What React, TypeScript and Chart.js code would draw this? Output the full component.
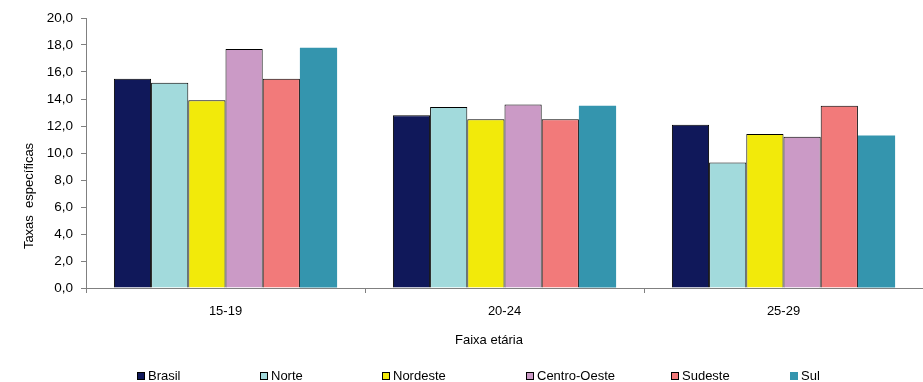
import React, { useEffect, useRef } from "react";
import { Chart, registerables } from "chart.js";

Chart.register(...registerables);

const categories = ["15-19", "20-24", "25-29"];
const seriesNames = ["Brasil", "Norte", "Nordeste", "Centro-Oeste", "Sudeste", "Sul"];
const brasil = [15.5, 12.8, 12.1];
const norte = [15.2, 13.4, 9.3];
const nordeste = [13.9, 12.5, 11.4];
const centroOeste = [17.7, 13.6, 11.2];
const sudeste = [15.5, 12.5, 13.5];
const sul = [17.8, 13.5, 11.3];
const yTicks = [0, 2, 4, 6, 8, 10, 12, 14, 16, 18, 20];
const yTitle = "Taxas  específicas";
const xTitle = "Faixa etária";

const seriesValues = [brasil, norte, nordeste, centroOeste, sudeste, sul];
const colors = ["#10185A", "#A2DADC", "#F2EA0A", "#CB9AC6", "#F27A7A", "#3495AE"];
const borderWidths = [1, 1, 1, 1, 1, 0];
const legendX = [137, 260, 382, 526, 671, 790];

const FONT = "'Liberation Sans', Arial, sans-serif";

const customDraw = {
  id: "customDraw",
  afterDraw(chart: any) {
    const ctx = chart.ctx;
    ctx.save();
    ctx.fillStyle = "#000";
    ctx.font = `13px ${FONT}`;
    ctx.save();
    ctx.translate(29, 196);
    ctx.rotate(-Math.PI / 2);
    ctx.textAlign = "center";
    ctx.textBaseline = "middle";
    ctx.fillText(yTitle, 0, 0);
    ctx.restore();
    ctx.textAlign = "center";
    ctx.textBaseline = "middle";
    ctx.fillText(xTitle, 489, 340);
    ctx.textAlign = "left";
    chart.data.datasets.forEach((ds: any, i: number) => {
      const x = legendX[i];
      ctx.fillStyle = ds.backgroundColor;
      ctx.fillRect(x, 372, 8, 8);
      if (ds.borderWidth > 0) {
        ctx.strokeStyle = "#000";
        ctx.lineWidth = 1;
        ctx.strokeRect(x + 0.5, 372.5, 7, 7);
      }
      ctx.fillStyle = "#000";
      ctx.fillText(ds.label, x + 11, 376.5);
    });
    ctx.restore();
  },
};

export default function App() {
  const ref = useRef<HTMLCanvasElement>(null);
  useEffect(() => {
    document.body.style.margin = "0";
    const chart = new Chart(ref.current!, {
      type: "bar",
      data: {
        labels: categories,
        datasets: seriesNames.map((name, i) => ({
          label: name,
          data: seriesValues[i],
          backgroundColor: colors[i],
          borderColor: "#000",
          borderWidth: borderWidths[i],
          categoryPercentage: 0.8,
          barPercentage: 1.0,
        })),
      },
      options: {
        animation: false,
        responsive: false,
        maintainAspectRatio: false,
        layout: { padding: { top: 18, right: 0, left: 0, bottom: 0 } },
        plugins: { legend: { display: false }, tooltip: { enabled: false } },
        scales: {
          x: {
            offset: true,
            grid: {
              offset: true,
              drawOnChartArea: false,
              drawTicks: true,
              tickLength: 5,
              color: "#808080",
            },
            border: { display: true, color: "#808080", width: 1 },
            ticks: {
              color: "#000",
              font: { family: FONT, size: 13 },
              padding: 11,
              maxRotation: 0,
            },
            afterFit(scale: any) {
              scale.height = 94;
            },
          },
          y: {
            min: 0,
            max: 20,
            afterBuildTicks(scale: any) {
              scale.ticks = yTicks.map((v) => ({ value: v }));
            },
            grid: {
              drawOnChartArea: false,
              drawTicks: true,
              tickLength: 5,
              color: "#808080",
            },
            border: { display: true, color: "#808080", width: 1 },
            ticks: {
              color: "#000",
              font: { family: FONT, size: 13.5 },
              padding: 8,
              callback: (v: any) => Number(v).toFixed(1).replace(".", ","),
            },
            afterFit(scale: any) {
              scale.width = 86;
            },
          },
        },
      },
      plugins: [customDraw],
    });
    return () => chart.destroy();
  }, []);
  return (
    <div style={{ width: 923, height: 382, background: "#fff" }}>
      <canvas ref={ref} width={923} height={382} />
    </div>
  );
}
